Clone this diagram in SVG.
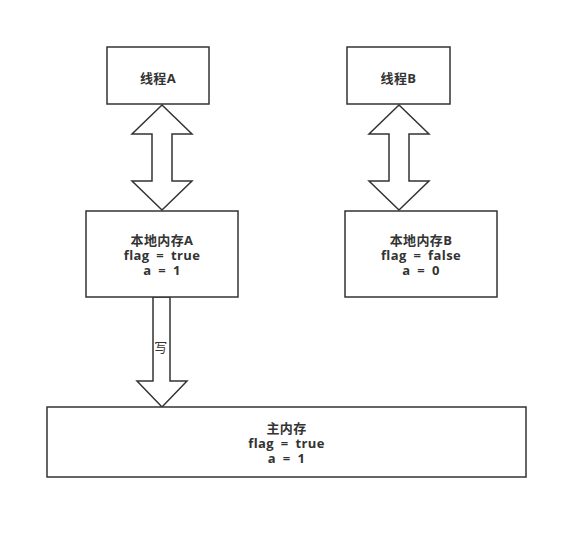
<svg xmlns="http://www.w3.org/2000/svg" width="588" height="539" viewBox="0 0 588 539">
<style>
.box{fill:#fff;stroke:#333;stroke-width:1.5}
.arr{fill:#fff;stroke:#333;stroke-width:1.5;stroke-linejoin:miter}
text{font-family:"Open Sans","Noto Sans CJK SC",sans-serif;font-size:13px;font-weight:bold;fill:#333;text-anchor:middle;letter-spacing:0.4px;word-spacing:3px}
</style>
<rect width="588" height="539" fill="#fff"/>
<g id="connectors">
<polygon class="arr" points="162,105 192,134 172,134 172,181 192,181 162,210 132,181 152,181 152,134 132,134"/>
<polygon class="arr" points="399,105 429,134 409,134 409,181 429,181 399,210 369,181 389,181 389,134 369,134"/>
<polygon class="arr" points="153,297 170,297 170,381 187,381 162,407 137,381 153,381"/>
<text x="161" y="352" style="font-weight:normal">写</text>
</g>
<g id="threadA">
<rect class="box" x="107" y="47" width="102" height="57"/>
<text x="158" y="83">线程A</text>
</g>
<g id="threadB">
<rect class="box" x="347" y="47" width="103" height="57"/>
<text x="398.5" y="83">线程B</text>
</g>
<g id="localA">
<rect class="box" x="86" y="211" width="152" height="86"/>
<text x="162" y="245">本地内存A</text>
<text x="162" y="260">flag = true</text>
<text x="162" y="275">a = 1</text>
</g>
<g id="localB">
<rect class="box" x="345" y="211" width="152" height="86"/>
<text x="421" y="245">本地内存B</text>
<text x="421" y="260">flag = false</text>
<text x="421" y="275">a = 0</text>
</g>
<g id="mainMemory">
<rect class="box" x="47" y="407" width="479" height="70"/>
<text x="286.5" y="433">主内存</text>
<text x="286.5" y="448">flag = true</text>
<text x="286.5" y="463">a = 1</text>
</g>
</svg>
